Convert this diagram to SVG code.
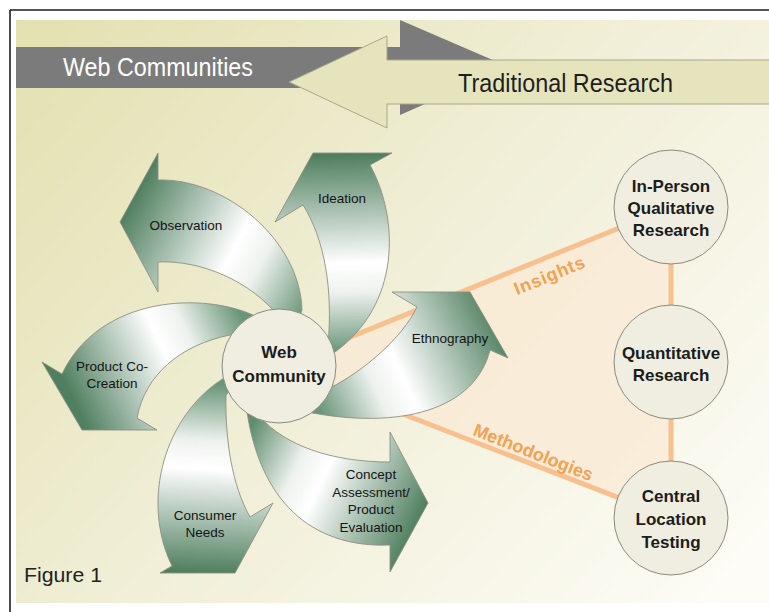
<svg xmlns="http://www.w3.org/2000/svg" width="769" height="612" viewBox="0 0 769 612">
<defs>
<style>
.lbl{font-family:"Liberation Sans",Arial,sans-serif;font-size:13.5px;fill:#141414;text-anchor:middle}
.node{font-family:"Liberation Sans",Arial,sans-serif;font-size:17px;font-weight:bold;fill:#1c1c1c;text-anchor:middle}
.arrow{stroke:#8e8e84;stroke-width:0.9;stroke-linejoin:round}
.circ{fill:#efeee0;stroke:#8a8a80;stroke-width:1}
.orange{stroke:#f8c08e;stroke-width:5;fill:none}
.olbl{font-family:"Liberation Sans",Arial,sans-serif;font-size:18px;font-weight:bold;fill:#f2a250;text-anchor:middle}
</style>
<linearGradient id="bg" gradientUnits="userSpaceOnUse" x1="60" y1="20" x2="720" y2="600">
<stop offset="0" stop-color="#e4e1b2"/>
<stop offset="0.5" stop-color="#f1efd8"/>
<stop offset="1" stop-color="#fdfcf6"/>
</linearGradient>
<linearGradient id="gObs" gradientUnits="userSpaceOnUse" x1="120" y1="222" x2="300" y2="320">
<stop offset="0" stop-color="#4f7f5f"/><stop offset="0.55" stop-color="#ffffff"/><stop offset="0.7" stop-color="#eef2ee"/><stop offset="1" stop-color="#6b967a"/>
</linearGradient>
<linearGradient id="gIde" gradientUnits="userSpaceOnUse" x1="330" y1="155" x2="335" y2="352">
<stop offset="0" stop-color="#4f7f5f"/><stop offset="0.55" stop-color="#ffffff"/><stop offset="0.7" stop-color="#eef2ee"/><stop offset="1" stop-color="#6b967a"/>
</linearGradient>
<linearGradient id="gEth" gradientUnits="userSpaceOnUse" x1="495" y1="315" x2="315" y2="400">
<stop offset="0" stop-color="#4f7f5f"/><stop offset="0.55" stop-color="#ffffff"/><stop offset="0.7" stop-color="#eef2ee"/><stop offset="1" stop-color="#6b967a"/>
</linearGradient>
<linearGradient id="gCon" gradientUnits="userSpaceOnUse" x1="428" y1="503" x2="255" y2="420">
<stop offset="0" stop-color="#4f7f5f"/><stop offset="0.55" stop-color="#ffffff"/><stop offset="0.7" stop-color="#eef2ee"/><stop offset="1" stop-color="#5f8d6f"/>
</linearGradient>
<linearGradient id="gCns" gradientUnits="userSpaceOnUse" x1="215" y1="573" x2="225" y2="385">
<stop offset="0" stop-color="#4f7f5f"/><stop offset="0.55" stop-color="#ffffff"/><stop offset="0.7" stop-color="#eef2ee"/><stop offset="1" stop-color="#6b967a"/>
</linearGradient>
<linearGradient id="gPro" gradientUnits="userSpaceOnUse" x1="75" y1="405" x2="245" y2="325">
<stop offset="0" stop-color="#4f7f5f"/><stop offset="0.55" stop-color="#ffffff"/><stop offset="0.7" stop-color="#eef2ee"/><stop offset="1" stop-color="#6b967a"/>
</linearGradient>
</defs>

<rect x="16" y="20" width="753" height="583" fill="url(#bg)"/>
<path d="M10,10 H769 M10,10 V612" stroke="#1e1e1e" stroke-width="1.6" fill="none"/>

<g id="web-communities">
<path d="M16,47 L400,47 L400,20 L509,67 L400,115 L400,88 L16,88 Z" fill="#7b7b7b"/>
<text x="63" y="76" font-family="Liberation Sans,Arial,sans-serif" font-size="25" fill="#ffffff" textLength="190" lengthAdjust="spacingAndGlyphs">Web Communities</text>
</g>
<g id="traditional-research">
<path d="M769,60 L387,60 L387,36 L289,82 L387,128 L387,104 L769,104" fill="#e6e4bc" stroke="#a9a68c" stroke-width="1"/>
<text x="458" y="92" font-family="Liberation Sans,Arial,sans-serif" font-size="26" fill="#1e1e1e" textLength="215" lengthAdjust="spacingAndGlyphs">Traditional Research</text>
</g>

<polygon points="279,366 671,207 671,518" fill="#f9e9d4" opacity="0.75"/>
<g id="connectors">
<line class="orange" x1="279" y1="366" x2="671" y2="207"/>
<line class="orange" x1="279" y1="366" x2="671" y2="518"/>
<line class="orange" x1="671" y1="262" x2="671" y2="310"/>
<line class="orange" x1="671" y1="416" x2="671" y2="464"/>
<text class="olbl" transform="translate(552,281) rotate(-22.3)" letter-spacing="0.8">Insights</text>
<text class="olbl" transform="translate(531,458) rotate(21.5)">Methodologies</text>
</g>

<g id="observation">
<path class="arrow" fill="url(#gObs)" d="M290,345 L302,310 C300,240 225,178 158,180 L158,153 L120,222 L158,292 L158,262 C200,260 250,280 280,318 Z"/>
<text class="lbl" x="186" y="230">Observation</text>
</g>
<g id="ideation">
<path class="arrow" fill="url(#gIde)" d="M310,360 L335,352 C400,305 400,220 370,165 L392,153 L313,153 L275,222 L303,205 C325,240 333,290 328,345 Z"/>
<text class="lbl" x="342" y="203">Ideation</text>
</g>
<g id="ethnography">
<path class="arrow" fill="url(#gEth)" d="M300,380 L330,388 C365,370 402,338 417,307 L392,292 L470,292 L508,358 L490,350 C475,410 400,430 307,412 Z"/>
<text class="lbl" x="450" y="343">Ethnography</text>
</g>
<g id="concept-assessment">
<path class="arrow" fill="url(#gCon)" d="M270,405 L260,417 C285,445 330,462 390,462 L390,432 L428,503 L390,572 L390,545 C320,548 262,510 247,412 Z"/>
<text class="lbl" x="371" y="479">Concept</text>
<text class="lbl" x="371" y="497">Assessment/</text>
<text class="lbl" x="371" y="514">Product</text>
<text class="lbl" x="371" y="532">Evaluation</text>
</g>
<g id="consumer-needs">
<path class="arrow" fill="url(#gCns)" d="M240,380 L226,395 C225,440 232,485 250,517 L273,503 L235,573 L160,573 L172,566 C140,500 165,415 224,378 Z"/>
<text class="lbl" x="205" y="520">Consumer</text>
<text class="lbl" x="205" y="537">Needs</text>
</g>
<g id="product-co-creation">
<path class="arrow" fill="url(#gPro)" d="M245,335 L255,316 C205,292 100,295 62,374 L42,362 L82,430 L157,430 L137,418 C145,375 180,345 230,335 Z"/>
<text class="lbl" x="112" y="371">Product Co-</text>
<text class="lbl" x="112" y="388">Creation</text>
</g>

<g id="web-community">
<circle class="circ" cx="279" cy="366" r="57"/>
<text class="node" x="279" y="358">Web</text>
<text class="node" x="279" y="382">Community</text>
</g>
<g id="in-person">
<circle class="circ" cx="671" cy="207" r="57"/>
<text class="node" x="671" y="192">In-Person</text>
<text class="node" x="671" y="214">Qualitative</text>
<text class="node" x="671" y="236">Research</text>
</g>
<g id="quantitative">
<circle class="circ" cx="671" cy="362" r="57"/>
<text class="node" x="671" y="359">Quantitative</text>
<text class="node" x="671" y="381">Research</text>
</g>
<g id="central-location">
<circle class="circ" cx="671" cy="518" r="57"/>
<text class="node" x="671" y="502">Central</text>
<text class="node" x="671" y="525">Location</text>
<text class="node" x="671" y="548">Testing</text>
</g>

<text x="24" y="582" font-family="Liberation Sans,Arial,sans-serif" font-size="20" fill="#222" textLength="78" lengthAdjust="spacingAndGlyphs">Figure 1</text>
</svg>
